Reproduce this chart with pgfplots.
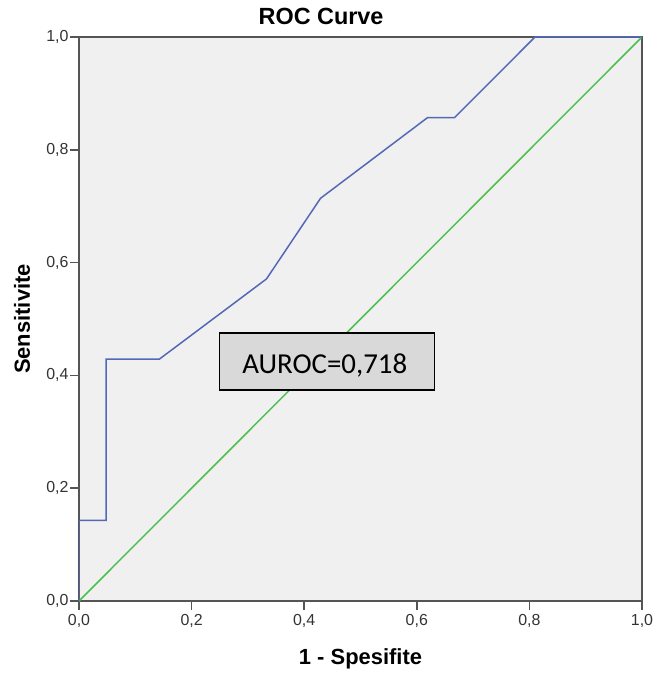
\documentclass[border=0pt]{standalone}
\usepackage{pgfplots}
\pgfplotsset{compat=1.18}
\usepackage{fontspec}
\setmainfont{Liberation Sans}
\newfontfamily\boxfont{Carlito}
\definecolor{rocblue}{HTML}{5468B8}
\definecolor{refgreen}{HTML}{4CC04C}
\definecolor{plotbg}{HTML}{F0F0F0}
\definecolor{boxfill}{HTML}{D9D9D9}
\definecolor{framegray}{HTML}{555555}
\begin{document}
\begin{tikzpicture}
\begin{axis}[
    at={(0,0)}, anchor=south west,
    scale only axis,
    width=563bp, height=564bp,
    xmin=0, xmax=1, ymin=0, ymax=1,
    xtick distance=0.2, ytick distance=0.2,
    tick align=outside,
    major tick length=9bp,
    xtick pos=bottom, ytick pos=left,
    axis line style={framegray, line width=1.5pt},
    tick style={framegray, line width=1.5pt},
    axis background/.style={fill=plotbg},
    /pgf/number format/.cd, fixed, fixed zerofill, precision=1, use comma, assume math mode=true,
    /pgfplots/.cd,
    tick label style={font=\fontsize{16}{18}\selectfont, text=black!80},
    yticklabel style={xshift=2bp},
    xticklabel style={yshift=-1bp},
    title={\bfseries ROC Curve},
    title style={font=\fontsize{23.5}{26}\selectfont, at={(axis description cs:0.43,1.0346)}, anchor=center, yshift=-5bp},
    xlabel={\bfseries 1 - Spesifite},
    ylabel={\bfseries Sensitivite},
    label style={font=\fontsize{22}{24}\selectfont},
    xlabel style={at={(axis description cs:0.5,-0.0993)}, anchor=center, yshift=-2bp},
    ylabel style={at={(axis description cs:-0.1012,0.5)}, anchor=center},
]
\addplot[refgreen, line width=1.5pt] coordinates {(0,0) (1,1)};
\addplot[rocblue, line width=1.5pt] coordinates {
  (0,0) (0,0.143) (0.048,0.143) (0.048,0.429) (0.143,0.429)
  (0.333,0.571) (0.429,0.714) (0.619,0.857) (0.667,0.857)
  (0.810,1.0) (1,1)
};
\node[draw=black, line width=1.2pt, fill=boxfill, minimum width=215bp, minimum height=57bp,
      inner sep=0pt] (box) at (axis cs:0.44,0.4246) {};
\node[font=\boxfont\fontsize{29}{32}\selectfont, inner sep=0pt] at ([xshift=-2bp,yshift=-4bp]box.center) {AUROC=0,718};
\end{axis}
\path[use as bounding box] (-79bp,-74bp) rectangle (578bp,601bp);
\end{tikzpicture}
\end{document}
